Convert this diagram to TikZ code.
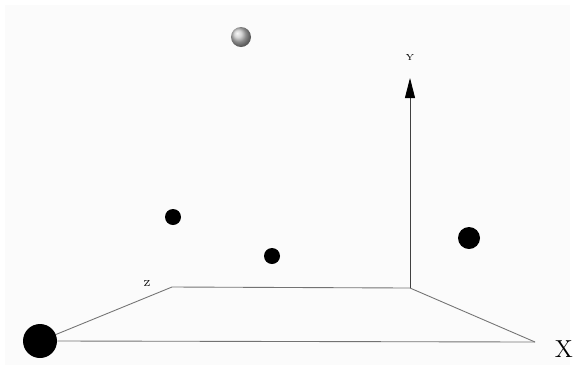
\documentclass[tikz,border=0pt]{standalone}
\usepackage{tikz}
\usetikzlibrary{arrows.meta}
\usepackage{amsmath}

\begin{document}
\begin{tikzpicture}[x=0.02cm,y=-0.02cm]
\tikzstyle{every node}+=[inner sep=0pt]
\tikzstyle{ball}=[circle,fill=black,draw=none]
\tikzstyle{edge}=[draw=black!55,line width=0.5pt]
\useasboundingbox (0,0) rectangle (575,370);
\fill [black!1.5] (5,5) rectangle (570,365);
% floor corners
\coordinate (O) at (410,288);
\coordinate (Zc) at (172,287);
\coordinate (Xc) at (535,342);
% spheres
\node [ball,minimum size=34*0.02cm] (p1) at (40,341) {};
\node [circle,shading=ball,ball color=black!22,minimum size=20*0.02cm] (p2) at (241,37) {};
\node [ball,minimum size=16*0.02cm] (p3) at (173,217) {};
\node [ball,minimum size=16*0.02cm] (p4) at (272,256) {};
\node [ball,minimum size=22*0.02cm] (p5) at (469,238) {};
% floor
\draw [edge] (O) -- (Zc);
\draw [edge] (Zc) -- (p1);
\draw [edge] (p1.east) -- (Xc);
\draw [edge] (Xc) -- (O);
% axis
\coordinate (Yt) at (410,78);
\draw [black!75,line width=0.5pt,-{Triangle[length=0.4cm,width=0.2cm,color=black]}] (O) -- (Yt);
\node [font=\fontsize{5}{5}\selectfont] (ylab) at (410,57) {Y};
\node [font=\fontsize{5}{5}\selectfont] (zlab) at (147,283) {Z};
\node [font=\fontsize{14}{14}\selectfont] (xlab) at (564,349) {X};
\end{tikzpicture}
\end{document}
